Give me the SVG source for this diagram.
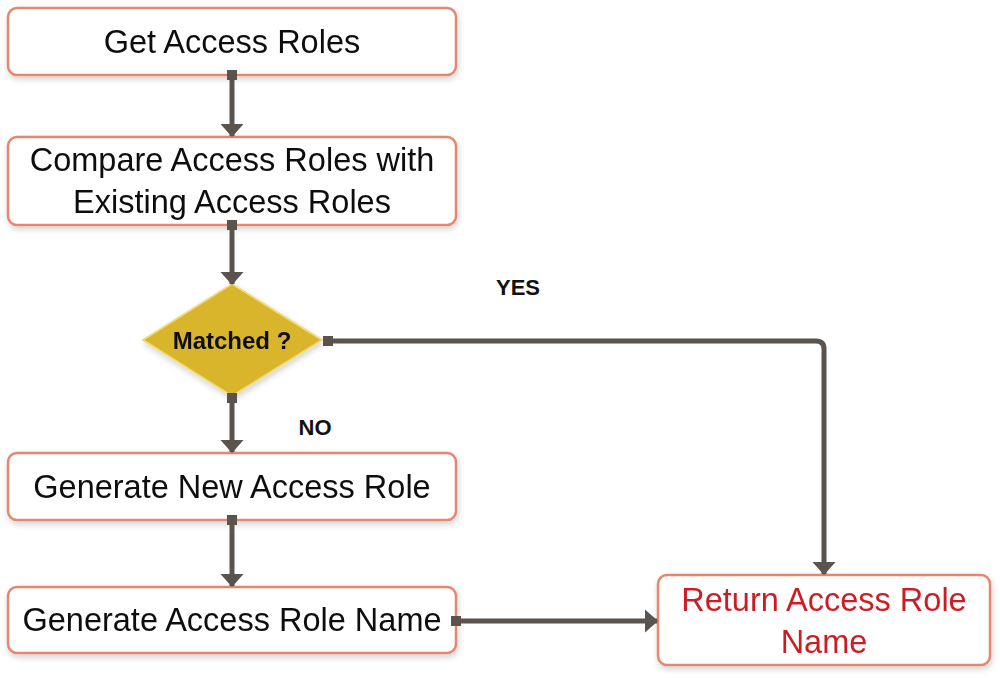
<svg xmlns="http://www.w3.org/2000/svg" width="1000" height="678" viewBox="0 0 1000 678">
<defs>
<filter id="sh" x="-5%" y="-10%" width="110%" height="130%">
<feGaussianBlur in="SourceAlpha" stdDeviation="3"/>
<feOffset dx="1" dy="3"/>
<feComponentTransfer><feFuncA type="linear" slope="0.18"/></feComponentTransfer>
<feMerge><feMergeNode/><feMergeNode in="SourceGraphic"/></feMerge>
</filter>
<marker id="arr" viewBox="0 0 13 24" markerWidth="13" markerHeight="24" refX="12" refY="12" orient="auto" markerUnits="userSpaceOnUse">
<path d="M0,0.5 L13,12 L0,23.5 Z" fill="#5b534e"/>
</marker>
</defs>
<style>
.box{fill:#ffffff;stroke:#e5866f;stroke-width:2.5}
.t{font-family:"Liberation Sans",Arial,sans-serif;font-size:32.5px;fill:#111;text-anchor:middle;dominant-baseline:central}
.r{fill:#cc1f26}
.lbl{font-family:"Liberation Sans",Arial,sans-serif;font-size:22px;font-weight:bold;fill:#111;text-anchor:middle;dominant-baseline:central}
.c{fill:none;stroke:#5b534e;stroke-width:5}
.sq{fill:#5b534e}
</style>
<g id="n1" filter="url(#sh)">
<rect class="box" x="8" y="8" width="448" height="67" rx="9"/>
<text class="t" x="232" y="42">Get Access Roles</text>
</g>
<g id="n2" filter="url(#sh)">
<rect class="box" x="8" y="137" width="448" height="88" rx="9"/>
<text class="t" x="232" y="160">Compare Access Roles with</text>
<text class="t" x="232" y="202">Existing Access Roles</text>
</g>
<g id="n3" filter="url(#sh)">
<path d="M232,284 L322,340 L232,396 L143,340 Z" fill="#d8b52a" stroke="#f0da7a" stroke-width="2" stroke-linejoin="round"/>
<text class="lbl" x="232" y="340" style="font-size:24px">Matched ?</text>
</g>
<g id="n4" filter="url(#sh)">
<rect class="box" x="8" y="453" width="448" height="67" rx="9"/>
<text class="t" x="232" y="487">Generate New Access Role</text>
</g>
<g id="n5" filter="url(#sh)">
<rect class="box" x="8" y="587" width="448" height="66" rx="9"/>
<text class="t" x="232" y="620">Generate Access Role Name</text>
</g>
<g id="n6" filter="url(#sh)">
<rect class="box" x="658" y="575" width="332" height="90" rx="9"/>
<text class="t r" x="824" y="600">Return Access Role</text>
<text class="t r" x="824" y="642">Name</text>
</g>
<g id="connectors">
<rect class="sq" x="227" y="70" width="10" height="10"/>
<path class="c" d="M232,78 L232,136" marker-end="url(#arr)"/>
<rect class="sq" x="227" y="220" width="10" height="10"/>
<path class="c" d="M232,228 L232,284" marker-end="url(#arr)"/>
<rect class="sq" x="227" y="393" width="10" height="10"/>
<path class="c" d="M232,400 L232,452" marker-end="url(#arr)"/>
<rect class="sq" x="227" y="515" width="10" height="10"/>
<path class="c" d="M232,523 L232,586" marker-end="url(#arr)"/>
<rect class="sq" x="323" y="336" width="10" height="10"/>
<path class="c" d="M330,341 L816,341 Q824,341 824,349 L824,574" marker-end="url(#arr)"/>
<rect class="sq" x="451" y="616" width="10" height="10"/>
<path class="c" d="M458,621 L657,621" marker-end="url(#arr)"/>
</g>
<text class="lbl" x="518" y="287">YES</text>
<text class="lbl" x="315" y="427">NO</text>
</svg>
